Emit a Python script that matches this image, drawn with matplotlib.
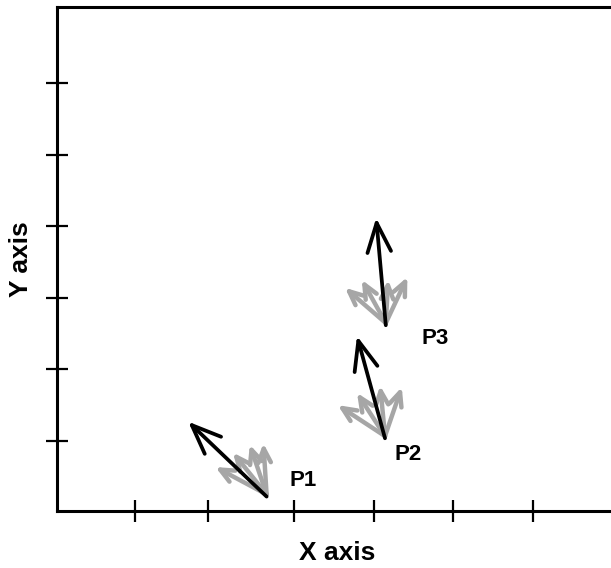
import numpy as np
import matplotlib
matplotlib.use("Agg")
import matplotlib.pyplot as plt
from matplotlib.patches import FancyArrowPatch

plt.rcParams['font.family'] = ['Liberation Sans', 'DejaVu Sans']

# points and their labels
names = ["P1", "P2", "P3"]
base_x = [2.62, 4.10, 4.11]
base_y = [0.20, 1.01, 2.58]

# black (main) arrow tips
main_x = [1.64, 3.75, 3.99]
main_y = [1.24, 2.43, 4.07]

# gray arrow tips, four per point
gray_x = [[1.98, 2.20, 2.41, 2.58],
          [3.51, 3.75, 4.04, 4.31],
          [3.60, 3.81, 4.14, 4.38]]
gray_y = [[0.61, 0.81, 0.92, 0.94],
          [1.47, 1.64, 1.74, 1.72],
          [3.10, 3.21, 3.21, 3.25]]

# label positions
lab_x = [3.08, 4.39, 4.73]
lab_y = [0.43, 0.78, 2.40]

xticks = [0.975, 1.89, 2.96, 3.96, 4.95, 5.95]
yticks = [0.97, 1.97, 2.96, 3.96, 4.94, 5.94]

fig = plt.figure(figsize=(6.11, 5.68), dpi=100)
ax = fig.add_axes([0.0933, 0.1004, 0.9165, 0.8873])

for i in range(len(names)):
    for gx, gy in zip(gray_x[i], gray_y[i]):
        a = FancyArrowPatch((base_x[i], base_y[i] + 0.03), (gx, gy),
                            arrowstyle='->,head_length=10,head_width=4.5',
                            mutation_scale=1, color='#a6a6a6', lw=3.2,
                            shrinkA=0, shrinkB=0)
        ax.add_patch(a)
    a = FancyArrowPatch((base_x[i], base_y[i]), (main_x[i], main_y[i]),
                        arrowstyle='->,head_length=21,head_width=8.5',
                        mutation_scale=1, color='black', lw=2.7,
                        shrinkA=0, shrinkB=0, zorder=5)
    ax.add_patch(a)
    ax.text(lab_x[i], lab_y[i], names[i], fontsize=16, fontweight='bold',
            ha='center', va='center')

ax.set_xlim(0, 7)
ax.set_ylim(0, 7)
ax.set_xticks(xticks)
ax.set_yticks(yticks)
ax.set_xticklabels([])
ax.set_yticklabels([])
ax.tick_params(direction='inout', length=16, width=1.6)
for s in ax.spines.values():
    s.set_linewidth(2.2)

ax.set_xlabel("X axis", fontsize=19, fontweight='bold', labelpad=10)
ax.set_ylabel("Y axis", fontsize=19, fontweight='bold', labelpad=6)

fig.savefig("out.png", dpi=100)
